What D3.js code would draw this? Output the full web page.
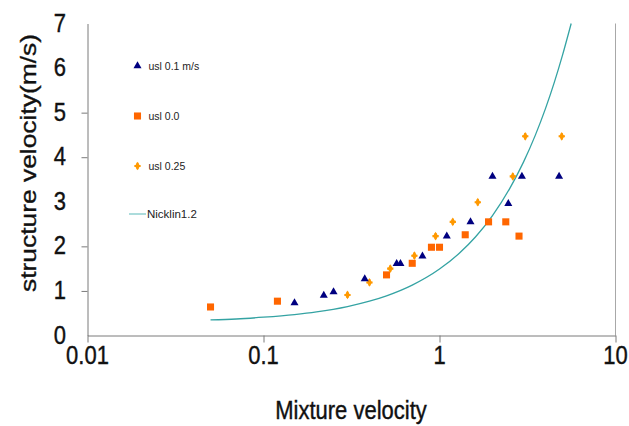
<!DOCTYPE html>
<html><head><meta charset="utf-8">
<script src="https://cdn.jsdelivr.net/npm/d3@7"></script>
<style>
body{margin:0;background:#fff;}
svg{display:block;}
text{font-family:"Liberation Sans",Arial,sans-serif;}
</style></head>
<body>
<svg id="c" width="629" height="426"></svg>
<script>
// ---- data ----
const xTicks = [0.01, 0.1, 1, 10];
const yTickLabels = [0, 1, 2, 3, 4, 5, 6, 7];
const yTickMarks = [1, 2, 4, 5];

const usl01X = [0.15, 0.22, 0.25, 0.376, 0.571, 0.60, 0.80, 1.10, 1.50, 2.0, 2.46, 2.94, 4.78];
const usl01Y = [0.73, 0.90, 0.98, 1.27, 1.61, 1.61, 1.78, 2.23, 2.55, 3.57, 2.96, 3.57, 3.57];

const usl00X = [0.05, 0.12, 0.50, 0.70, 0.90, 1.0, 1.4, 1.9, 2.38, 2.83];
const usl00Y = [0.64, 0.77, 1.36, 1.62, 1.98, 1.98, 2.26, 2.55, 2.55, 2.23];

const usl025X = [0.30, 0.40, 0.525, 0.72, 0.95, 1.19, 1.65, 2.61, 3.07, 4.95];
const usl025Y = [0.91, 1.19, 1.50, 1.79, 2.23, 2.55, 2.99, 3.57, 4.47, 4.47];

const nicklinX = [0.05, 0.07, 0.1, 0.15, 0.2, 0.3, 0.4, 0.5, 0.7, 1.0, 1.3, 1.6, 2.0, 2.5, 3.0, 3.5, 4.0, 4.5, 5.0, 5.6];
const nicklinY = [0.35, 0.37, 0.41, 0.47, 0.53, 0.65, 0.77, 0.89, 1.13, 1.49, 1.85, 2.21, 2.69, 3.29, 3.89, 4.49, 5.09, 5.69, 6.29, 7.0];

const seriesNames = ["usl 0.1 m/s", "usl 0.0", "usl 0.25", "Nicklin1.2"];

// ---- chart ----
const svg = d3.select("#c");
const x = d3.scaleLog().domain([0.01, 10]).range([87.5, 615.5]);
const y = d3.scaleLinear().domain([0, 7]).range([335.5, 23.5]);
const axisColor = "#7a7a7a";
const SY = 1.15;

// right border
svg.append("line").attr("x1", x(10)).attr("x2", x(10)).attr("y1", y(7)).attr("y2", y(0))
  .attr("stroke", "#a8a8a8").attr("stroke-width", 1);

// x axis
const gx = svg.append("g").attr("transform", `translate(0,${y(0)})`)
  .call(d3.axisBottom(x).tickValues(xTicks).tickSize(7).tickSizeOuter(0).tickFormat(""));
gx.selectAll("path,line").attr("stroke", axisColor);

// y axis
const gy = svg.append("g").attr("transform", `translate(${x(0.01)},0)`)
  .call(d3.axisLeft(y).tickValues(yTickMarks).tickSize(6).tickSizeOuter(0).tickFormat(""));
gy.selectAll("path,line").attr("stroke", axisColor);

function stext(px, py, str, size, anchor, rot, sx, sy) {
  return svg.append("text")
    .attr("transform", `translate(${px},${py})` + (rot ? ` rotate(${rot})` : "") + ` scale(${sx},${sy})`)
    .attr("font-size", size).attr("text-anchor", anchor).attr("fill", "#111")
    .attr("stroke", "#111").attr("stroke-width", 0.35).text(str);
}

xTicks.forEach(v => stext(x(v), 364, String(v), 22, "middle", 0, 1, SY));
yTickLabels.forEach(v => stext(66, y(v) + 8, String(v), 22, "end", 0, 1, SY));

stext(351, 419, "Mixture velocity", 22, "middle", 0, 1, SY);
stext(36, 163, "structure velocity(m/s)", 22, "middle", -90, 1.2, 1);

// Nicklin curve
const curvePts = nicklinX.map((v, i) => [v, nicklinY[i]]);
svg.append("path").datum(curvePts)
  .attr("d", d3.line().x(d => x(d[0])).y(d => y(d[1])).curve(d3.curveMonotoneX))
  .attr("fill", "none").attr("stroke", "#34a3a3").attr("stroke-width", 1.3);

const colTri = "#000080", colSq = "#FF6600", colDia = "#FF9900";
const triSym = d3.symbol().type(d3.symbolTriangle).size(28);
const sqSym = d3.symbol().type(d3.symbolSquare).size(50);
const diaSym = d3.symbol().type(d3.symbolCross).size(22);
const diaSym2 = d3.symbol().type(d3.symbolDiamond).size(22);

function drawSym(px, py, kind) {
  if (kind === "tri") {
    svg.append("path").attr("d", triSym()).attr("transform", `translate(${px},${py})`).attr("fill", colTri);
  } else if (kind === "sq") {
    svg.append("path").attr("d", sqSym()).attr("transform", `translate(${px},${py})`).attr("fill", colSq);
  } else {
    svg.append("path").attr("d", diaSym2()).attr("transform", `translate(${px},${py})`).attr("fill", colDia);
    svg.append("path").attr("d", diaSym()).attr("transform", `translate(${px},${py})`).attr("fill", colDia);
  }
}

usl00X.forEach((v, i) => drawSym(x(v), y(usl00Y[i]), "sq"));
usl025X.forEach((v, i) => drawSym(x(v), y(usl025Y[i]), "dia"));
usl01X.forEach((v, i) => drawSym(x(v), y(usl01Y[i]), "tri"));

// legend
const legY = [66, 116, 166, 214];
drawSym(137.5, legY[0], "tri");
drawSym(137.5, legY[1], "sq");
drawSym(137.5, legY[2], "dia");
svg.append("line").attr("x1", 129).attr("x2", 146).attr("y1", legY[3]).attr("y2", legY[3])
  .attr("stroke", "#7fcaca").attr("stroke-width", 1.3);
seriesNames.forEach((s, i) => {
  svg.append("text").attr("x", i === 3 ? 147 : 148.5).attr("y", legY[i] + 4)
    .attr("font-size", i === 3 ? 11.5 : 10.5).attr("fill", "#222").text(s);
});
</script>
</body></html>
